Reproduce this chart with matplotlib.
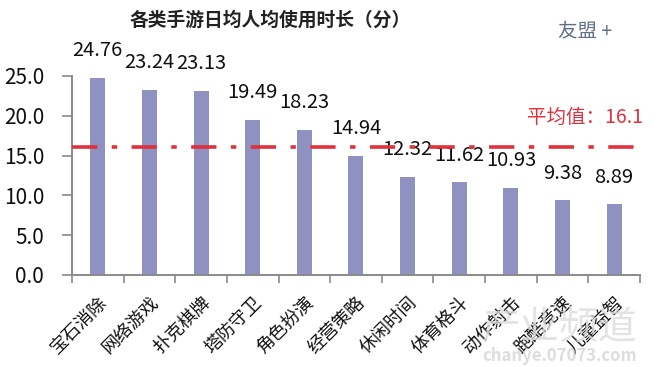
import numpy as np
import matplotlib
matplotlib.use("Agg")
import matplotlib.pyplot as plt

plt.rcParams['font.family'] = ['Noto Sans CJK SC', 'DejaVu Sans']

categories = ["宝石消除", "网络游戏", "扑克棋牌", "塔防守卫", "角色扮演", "经营策略",
              "休闲时间", "体育格斗", "动作射击", "跑酷竞速", "儿童益智"]
minutes = [24.76, 23.24, 23.13, 19.49, 18.23, 14.94, 12.32, 11.62, 10.93, 9.38, 8.89]
average = 16.1
y_ticks = [0, 5, 10, 15, 20, 25]

fig = plt.figure(figsize=(6.58, 3.67), dpi=100)
ax = fig.add_axes([0.1094, 0.2507, 0.8632, 0.5423])

x = np.arange(len(categories))
ax.bar(x, minutes, width=0.29, color="#8f92c0", zorder=2)

# value labels above bars
for xi, v in zip(x, minutes):
    ax.annotate(f"{v:.2f}", (xi, v), xytext=(0, 19.5), textcoords="offset points",
                ha="center", va="center", fontsize=14.5, color="#111111")

# average line
ax.axhline(average, color="#e0313c", lw=2.6, dashes=(7, 4, 1.5, 4), zorder=3)
ax.text(1.005, 0.79, f"平均值：{average}", transform=ax.transAxes, ha="right",
        va="center", fontsize=14, color="#e0313c")

ax.set_xlim(-0.5, len(categories) - 0.5)
ax.set_ylim(0, 25)
ax.set_yticks(y_ticks)
ax.set_yticklabels([f"{t:.1f}" for t in y_ticks], fontsize=15, color="#111111")
ax.set_xticks(x)
ax.set_xticklabels(categories, rotation=45, ha="right", rotation_mode="anchor",
                   fontsize=13, color="#111111")
ax.set_xticks(np.arange(-0.5, len(categories)), minor=True)
ax.tick_params(axis="x", which="major", length=0, pad=13)
ax.tick_params(axis="x", which="minor", length=6, width=1.2, color="#8a8a8a", direction="out")
ax.tick_params(axis="y", length=7, width=1.2, color="#8a8a8a", pad=13)

for s in ["top", "right"]:
    ax.spines[s].set_visible(False)
for s in ["left", "bottom"]:
    ax.spines[s].set_color("#8a8a8a")
    ax.spines[s].set_linewidth(1.4)

fig.text(0.41, 0.945, "各类手游日均人均使用时长（分）", ha="center", va="center",
         fontsize=13.5, fontweight="bold", color="#222222")
fig.text(0.89, 0.915, "友盟 +", ha="center", va="center", fontsize=14, color="#5d7088")

# watermark
fig.text(0.85, 0.105, "产业频道", ha="center", va="center", fontsize=28,
         color="#dcdcdc", alpha=0.8)
fig.text(0.85, 0.03, "chanye.07073.com", ha="center", va="center", fontsize=12,
         color="#d5d5d5", alpha=0.8, fontweight="bold")

fig.savefig("out.png", dpi=100)
